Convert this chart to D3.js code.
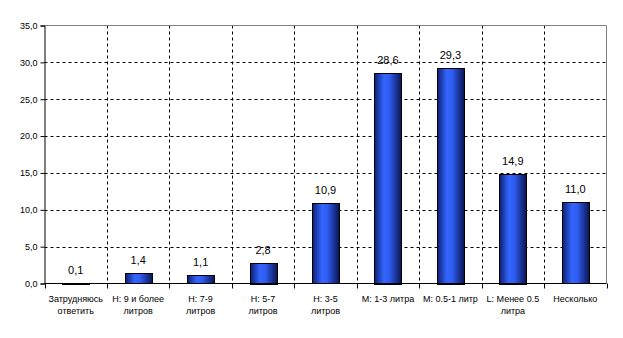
<!DOCTYPE html>
<meta charset="utf-8">
<style>
body { margin: 0; background: #fff; }
svg { font-family: 'Liberation Sans', Arial, sans-serif; }
.grid line { stroke: #000; stroke-dasharray: 3,3; stroke-width: 1; }
</style>
<svg width="623" height="338"></svg>
<script src="https://d3js.org/d3.v7.min.js"></script>
<script>

var categories = [
  ["Затрудняюсь", "ответить"],
  ["Н: 9 и более", "литров"],
  ["Н: 7-9", "литров"],
  ["Н: 5-7", "литров"],
  ["Н: 3-5", "литров"],
  ["М: 1-3 литра"],
  ["М: 0.5-1 литр"],
  ["L: Менее 0.5", "литра"],
  ["Несколько"]
];
var values = [0.1, 1.4, 1.1, 2.8, 10.9, 28.6, 29.3, 14.9, 11.0];
var yTicks = [0, 5, 10, 15, 20, 25, 30, 35];

var svg = d3.select("svg");
var pLeft = 44.5, pRight = 606.5, pTop = 25.5, pBottom = 283.5;

var x = d3.scaleBand()
  .domain(d3.range(values.length))
  .range([pLeft, pRight])
  .paddingInner(0).paddingOuter(0);

var y = d3.scaleLinear().domain([0, 35]).range([pBottom, pTop]);

var fmt = function(v) { return d3.format(".1f")(v).replace(".", ","); };

// gradient for bars
var grad = svg.append("defs").append("linearGradient")
  .attr("id", "barGrad").attr("x1", "0%").attr("x2", "100%").attr("y1", "0%").attr("y2", "0%");
grad.append("stop").attr("offset", "0%").attr("stop-color", "#0d1f73");
grad.append("stop").attr("offset", "35%").attr("stop-color", "#3366ff");
grad.append("stop").attr("offset", "55%").attr("stop-color", "#2e5cf0");
grad.append("stop").attr("offset", "100%").attr("stop-color", "#0a1450");

// horizontal grid
svg.append("g").attr("class", "grid")
  .selectAll("line").data(yTicks.filter(function(d) { return d > 0 && d < 35; }))
  .enter().append("line")
  .attr("x1", pLeft).attr("x2", pRight)
  .attr("y1", function(d) { return Math.round(y(d)) + 0.5; })
  .attr("y2", function(d) { return Math.round(y(d)) + 0.5; });

// vertical grid
svg.append("g").attr("class", "grid")
  .selectAll("line").data(d3.range(1, values.length))
  .enter().append("line")
  .attr("x1", function(d) { return Math.round(x(d)) + 0.5; })
  .attr("x2", function(d) { return Math.round(x(d)) + 0.5; })
  .attr("y1", pTop).attr("y2", pBottom);

// plot border (top & right gray)
svg.append("line").attr("x1", pLeft).attr("x2", pRight).attr("y1", pTop).attr("y2", pTop)
  .attr("stroke", "#808080");
svg.append("line").attr("x1", pRight).attr("x2", pRight).attr("y1", pTop).attr("y2", pBottom)
  .attr("stroke", "#808080");

// bars
var bw = 27;
svg.append("g").selectAll("rect").data(values).enter().append("rect")
  .attr("x", function(d, i) { return Math.round(x(i) + x.bandwidth() / 2 - bw / 2) + 0.5; })
  .attr("y", function(d) { return Math.round(y(d)) + 0.5; })
  .attr("width", bw)
  .attr("height", function(d) { return Math.max(1, Math.round(pBottom - y(d))); })
  .attr("fill", "url(#barGrad)")
  .attr("stroke", "#000").attr("stroke-width", 1);

// value labels
svg.append("g").selectAll("text").data(values).enter().append("text")
  .attr("x", function(d, i) { return x(i) + x.bandwidth() / 2; })
  .attr("y", function(d) { return y(d) - 9; })
  .attr("text-anchor", "middle")
  .attr("font-size", "11px")
  .text(fmt);

// y axis
var yAxis = d3.axisLeft(y).tickValues(yTicks).tickFormat(fmt).tickSize(4).tickPadding(3);
var ga = svg.append("g").attr("transform", "translate(" + pLeft + ",0)").call(yAxis);
ga.select(".domain").attr("stroke", "#000");
ga.selectAll("text").attr("font-size", "9px").attr("font-family", "'Liberation Sans', Arial, sans-serif");

// x axis
svg.append("line").attr("x1", pLeft).attr("x2", pRight).attr("y1", pBottom).attr("y2", pBottom)
  .attr("stroke", "#000");
svg.append("g").selectAll("line").data(d3.range(0, values.length + 1)).enter().append("line")
  .attr("x1", function(d) { return Math.round(d < values.length ? x(d) : pRight) + 0.5; })
  .attr("x2", function(d) { return Math.round(d < values.length ? x(d) : pRight) + 0.5; })
  .attr("y1", pBottom).attr("y2", pBottom + 5)
  .attr("stroke", "#000");

var lab = svg.append("g").selectAll("text").data(categories).enter().append("text")
  .attr("text-anchor", "middle")
  .attr("font-size", "9px")
  .attr("transform", function(d, i) { return "translate(" + (x(i) + x.bandwidth() / 2) + "," + (pBottom + 18) + ")"; });
lab.selectAll("tspan").data(function(d) { return d; }).enter().append("tspan")
  .attr("x", 0).attr("dy", function(d, j) { return j === 0 ? 0 : 12; })
  .text(function(d) { return d; });

</script>
